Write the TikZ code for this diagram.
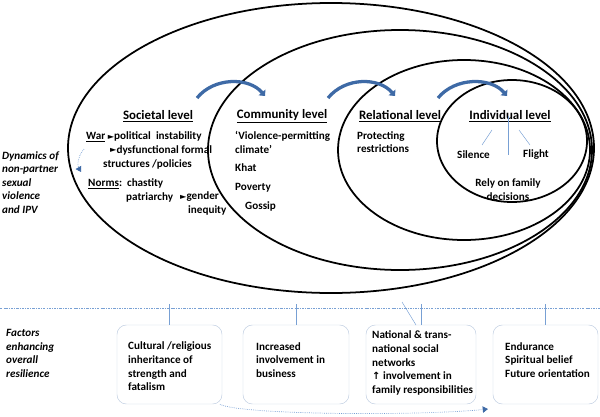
\documentclass[tikz,border=0pt]{standalone}
\usepackage{fontspec}
\setmainfont{Carlito}
\newfontfamily\symfont{DejaVu Sans}
\usetikzlibrary{arrows.meta}

\definecolor{arcblue}{RGB}{62,106,166}
\definecolor{lineblue}{RGB}{120,160,212}
\definecolor{boxgray}{RGB}{190,204,224}

\newcommand{\tri}{{\symfont\fontsize{7}{7}\selectfont\raisebox{0.3pt}{►}}}
\newcommand{\uparr}{{\symfont\fontsize{8.5}{8.5}\selectfont ↑}}

\tikzset{
  ring/.style={line width=1.5pt},
  lvl/.style={font=\fontsize{11}{13}\selectfont\bfseries, inner sep=0pt},
  txt/.style={font=\fontsize{9.5}{11.6}\selectfont\bfseries, align=left, inner sep=0pt, anchor=west},
  side/.style={font=\fontsize{9.5}{11.6}\selectfont\bfseries\itshape, align=left, inner sep=0pt, anchor=west},
  flow/.style={arcblue, line width=2.8pt, -{Triangle[length=4pt,width=7.5pt]}},
  dotflow/.style={lineblue, densely dotted, semithick, -{Triangle[length=4.5pt,width=5.5pt,color=arcblue]}},
  conn/.style={lineblue, thin},
  factorbox/.style={draw=boxgray, rounded corners=8pt, minimum width=#1, minimum height=2.37cm, inner sep=0pt},
}

\begin{document}
\begin{tikzpicture}[x=0.03cm,y=-0.03cm]
\useasboundingbox (0,0) rectangle (600,416);

% levels
\draw[ring] (331,148) ellipse [x radius=263, y radius=145];
\draw[ring] (400,150) ellipse [x radius=192, y radius=120];
\draw[ring] (464,150) ellipse [x radius=126, y radius=90];
\draw[ring] (512,141) ellipse [x radius=75, y radius=61];

\draw[flow] (197,98) .. controls (214,77) and (249,77) .. (265,96);
\draw[flow] (328,98) .. controls (345,77) and (379,77) .. (395,96);
\draw[flow] (438,98) .. controls (455,77) and (491,77) .. (507,96);

\node[lvl] (soc) at (158,116) {\underline{Societal level}};
\node[lvl] (com) at (282,116) {\underline{Community level}};
\node[lvl] (rel) at (400,116) {\underline{Relational level}};
\node[lvl] (ind) at (510,116) {\underline{Individual level}};

% societal
\node[txt] (war) at (86,137) {\underline{War} \tri political\ \ instability};
\node[txt] (dys) at (110,150) {\tri dysfunctional formal};
\node[txt] (str) at (103,164) {structures /policies};
\node[txt] (nor) at (88,184) {\underline{Norms}:\ \ chastity};
\node[txt] (pat) at (126,197) {patriarchy};
\node[txt] (gen) at (180,197) {\tri gender};
\node[txt] (ineq) at (188,210) {inequity};
\coordinate (w0) at (84,149);
\coordinate (w1) at (81,172);
\draw[dotflow] (w0) .. controls (78,156) and (77,165) .. (w1);

% community
\node[txt] (vio) at (235,142.5) {‘Violence-permitting\\climate’};
\node[txt] (kha) at (235,168) {Khat};
\node[txt] (pov) at (235,188) {Poverty};
\node[txt] (gos) at (245,206) {Gossip};

% relational
\node[txt] (pro) at (357,142) {Protecting\\restrictions};

% individual
\node[txt] (sil) at (457,155) {Silence};
\node[txt] (fli) at (523,155) {Flight};
\node[txt, align=center, anchor=center] (rely) at (508,189.5) {Rely on family\\decisions};
\coordinate (i0) at (508,116);
\coordinate (i1) at (508,155);
\coordinate (s0) at (492,130);
\coordinate (s1) at (482,145);
\coordinate (f0) at (519,130);
\coordinate (f1) at (530,145);
\draw[conn] (i0) -- (i1);
\draw[conn] (s0) -- (s1);
\draw[conn] (f0) -- (f1);

\node[side] (dyn) at (2,182.5) {Dynamics of\\non-partner\\sexual\\violence\\and IPV};

% resilience
\coordinate (sepl) at (0,308);
\coordinate (sepr) at (600,308);
\draw[lineblue, dash pattern=on 2pt off 1pt on 0.6pt off 1pt] (sepl) -- (sepr);

\node[side] (fac) at (6,353.5) {Factors\\enhancing\\overall\\resilience};

\node[factorbox=3.15cm] (b1) at (169.5,364.5) {};
\node[factorbox=3.18cm] (b2) at (296,364.5) {};
\node[factorbox=3.30cm] (b3) at (421,364.5) {};
\node[factorbox=3.15cm] (b4) at (545.5,364.5) {};

\node[txt] (t1) at (128,366.5) {Cultural /religious\\inheritance of\\strength and\\fatalism};
\node[txt] (t2) at (256,360) {Increased\\involvement in\\business};
\node[txt] (t3) at (372,363) {National \& trans-\\national social\\networks\\\uparr\ involvement in\\family responsibilities};
\node[txt] (t4) at (505,360) {Endurance\\Spiritual belief\\Future orientation};

\coordinate (c1) at (169.5,304);
\coordinate (c2) at (296,304);
\coordinate (c3) at (421,304);
\coordinate (c4) at (545.5,304);
\coordinate (d3) at (402,302);
\coordinate (d4) at (416,325);
\draw[conn] (c1) -- (b1.north);
\draw[conn] (c2) -- (b2.north);
\draw[conn] (c3) -- (b3.north);
\draw[conn] (c4) -- (b4.north);
\draw[conn] (d3) -- (d4);

\coordinate (e1) at (488,409);
\draw[dotflow] ([xshift=-2pt]b1.south east) .. controls (240,415) and (420,416) .. (e1);

\end{tikzpicture}
\end{document}
